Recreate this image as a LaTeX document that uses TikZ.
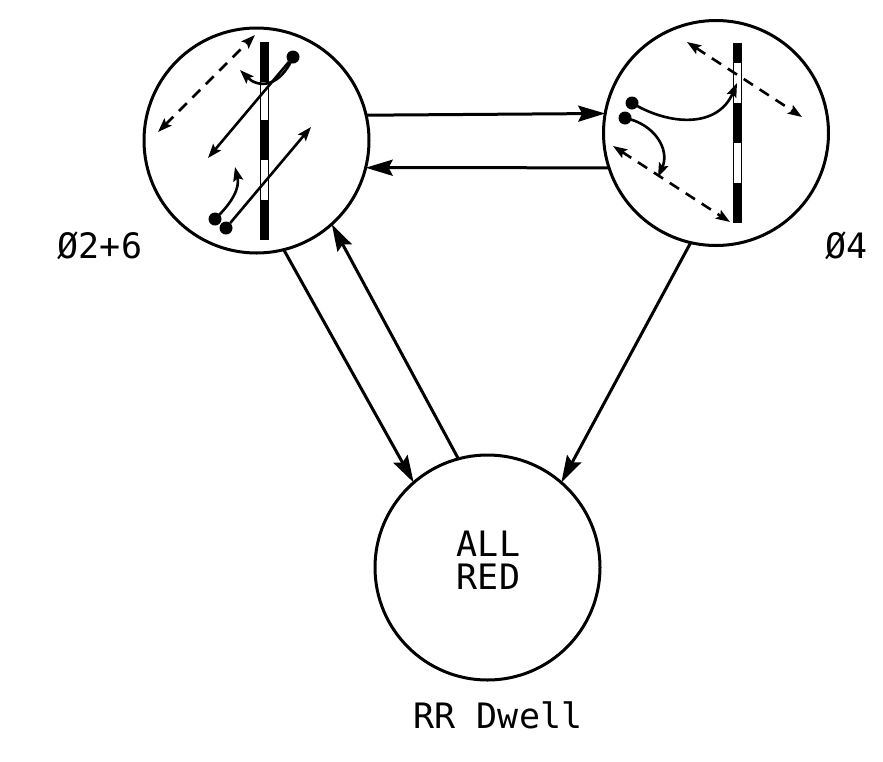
\documentclass[tikz,border=0pt]{standalone}
\usepackage{fontspec}
\setmonofont{DejaVu Sans Mono}
\usetikzlibrary{arrows.meta}
\begin{document}
\begin{tikzpicture}[x=1pt,y=-1pt,
  statec/.style={circle,draw,line width=3pt,inner sep=0pt,outer sep=0pt,minimum size=225pt},
  bigarr/.style={line width=3pt,-{Stealth[length=27pt,width=16pt,inset=4pt]}},
  smallarr/.style={line width=2.6pt,-{Stealth[length=14pt,width=10pt,inset=2.5pt]}},
  dasharr/.style={line width=2.6pt,dash pattern=on 11pt off 8pt,{Stealth[length=14pt,width=10pt,inset=2.5pt]}-{Stealth[length=14pt,width=10pt,inset=2.5pt]}},
  dotc/.style={circle,fill,inner sep=0pt,outer sep=0pt,minimum size=13pt},
  lbl/.style={font=\ttfamily\fontsize{35}{40}\selectfont,inner sep=0pt,anchor=base},
  barline/.style={line width=1pt}]
\useasboundingbox (0,0) rectangle (883,761);

% state circles
\node[statec] (L) at (256.5,140.5) {};
\node[statec] (R) at (716,133) {};
\node[statec] (B) at (487.5,567.5) {};

% labels
\node[lbl] (lL) at (100,258) {Ø2+6};
\node[lbl] (lR) at (846.5,258) {Ø4};
\node[lbl] (lB) at (498,728) {RR Dwell};
\node[lbl] (t1) at (488.5,556) {ALL};
\node[lbl] (t2) at (488.5,589) {RED};

% transitions
\draw[bigarr] (L.13.1) -- (R.170.8);
\draw[bigarr] (R.198) -- (L.-14.1);
\draw[bigarr] (L.-76.6) -- (B.131.8);
\draw[bigarr] (B.105.4) -- (L.-48.9);
\draw[bigarr] (R.257.9) -- (B.49.3);

% ---- left circle contents ----
\draw[barline] (260,42) rectangle (268,239);
\fill (260,42) rectangle (268,82);
\fill (260,120) rectangle (268,160);
\fill (260,200) rectangle (268,239);

\coordinate (la1) at (158,132);
\coordinate (la2) at (255,35);
\draw[dasharr] (la1) -- (la2);

\node[dotc] (ld1) at (293,57) {};
\coordinate (le1) at (208,158);
\coordinate (le2) at (240,70);
\draw[smallarr] (ld1) -- (le1);
\draw[smallarr] (ld1.center) .. controls (280,88) and (258,88) .. (le2);

\node[dotc] (ld2) at (215,219) {};
\coordinate (le3) at (235,167);
\draw[smallarr] (ld2.center) .. controls (232,203) and (240,188) .. (le3);

\node[dotc] (ld3) at (226,228) {};
\coordinate (le4) at (311,127);
\draw[smallarr] (ld3) -- (le4);

% ---- right circle contents ----
\draw[barline] (733,43) rectangle (741,222);
\fill (733,43) rectangle (741,63);
\fill (733,103) rectangle (741,143);
\fill (733,183) rectangle (741,222);

\coordinate (ra1) at (687,42);
\coordinate (ra2) at (802,117);
\draw[dasharr] (ra1) -- (ra2);
\coordinate (ra3) at (613,146);
\coordinate (ra4) at (730,222);
\draw[dasharr] (ra3) -- (ra4);

\node[dotc] (rd1) at (632,103) {};
\coordinate (re1) at (737,83);
\draw[smallarr] (rd1.center) .. controls (670,126) and (718,128) .. (re1);

\node[dotc] (rd2) at (625,118) {};
\coordinate (re2) at (658,177);
\draw[smallarr] (rd2.center) .. controls (655,124) and (670,150) .. (re2);
\end{tikzpicture}
\end{document}
